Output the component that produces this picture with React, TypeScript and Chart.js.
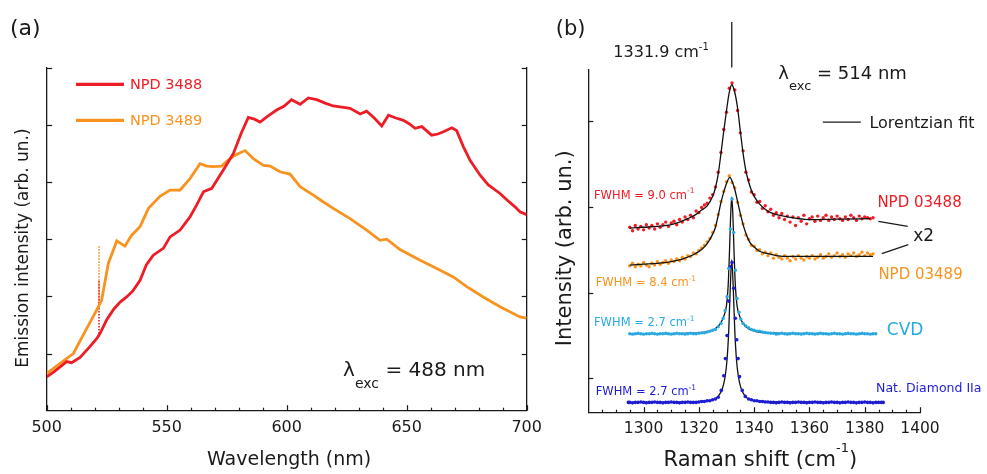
import React, { useEffect, useRef } from "react";
import { Chart, registerables } from "chart.js";
Chart.register(...registerables);

const FONT = '"DejaVu Sans", Verdana, sans-serif';
const INK = "#1a1a1a";
const RED = "#ee1c24";
const ORANGE = "#f7931e";
const CYAN = "#27aae1";
const BLUE = "#1c1cd4";

// ---------------- Panel (a): emission spectra ----------------
const wavelengthTicks = [500, 510, 520, 530, 540, 550, 560, 570, 580, 590, 600, 610, 620, 630, 640, 650, 660, 670, 680, 690, 700];
const wavelengthLabels = [500, 550, 600, 650, 700];
const emissionYTicks = [1, 2, 3, 4, 5, 6];

const npd3488X = [500, 503, 508.3, 510.4, 513.9, 518, 520.8, 522.2, 525, 528, 530.6, 533.3, 536, 538.9, 541.5, 544.4, 548.6, 551.4, 555.6, 559.7, 562.5, 565.3, 568.8, 573.6, 577.8, 581, 584, 586.5, 588.9, 592, 595.8, 599, 602, 605.6, 609, 612.5, 616, 619.4, 623, 626.4, 630.6, 633.3, 636.5, 639.6, 642.4, 645.5, 648.6, 651, 653.5, 656.3, 660.4, 663, 665.3, 668.8, 670.8, 673.6, 676.4, 680.6, 684, 688.9, 691.7, 695, 697.2, 700];
const npd3488Y = [0.59, 0.68, 0.86, 0.84, 0.93, 1.12, 1.26, 1.35, 1.59, 1.78, 1.9, 1.99, 2.1, 2.28, 2.55, 2.72, 2.84, 3.04, 3.16, 3.39, 3.6, 3.83, 3.89, 4.21, 4.5, 4.85, 5.13, 5.1, 5.05, 5.15, 5.26, 5.33, 5.44, 5.36, 5.47, 5.44, 5.38, 5.33, 5.31, 5.29, 5.19, 5.24, 5.12, 4.98, 5.17, 5.12, 5.08, 5.02, 4.94, 4.97, 4.82, 4.84, 4.88, 4.95, 4.9, 4.62, 4.38, 4.12, 3.95, 3.8, 3.69, 3.57, 3.48, 3.43];

const npd3489X = [500, 505.6, 511.1, 516.7, 520.8, 522.9, 525.7, 529.2, 532.6, 535.4, 538.9, 542.4, 547.2, 551.4, 555.6, 559.7, 563.9, 566.7, 569.5, 572.9, 575.5, 577.8, 580, 582.6, 586.1, 590.3, 593.1, 597.2, 601.4, 605.6, 611.1, 615, 619.4, 626.4, 633.3, 638.9, 641.7, 647.2, 655.6, 661.1, 669.4, 675, 681.9, 688.9, 697.2, 700];
const npd3489Y = [0.65, 0.83, 1.0, 1.44, 1.76, 1.93, 2.58, 2.97, 2.88, 3.07, 3.22, 3.54, 3.75, 3.86, 3.86, 4.06, 4.32, 4.28, 4.27, 4.28, 4.38, 4.45, 4.5, 4.55, 4.41, 4.29, 4.28, 4.18, 4.14, 3.92, 3.77, 3.66, 3.54, 3.36, 3.16, 2.98, 3.0, 2.82, 2.63, 2.52, 2.34, 2.17, 1.99, 1.82, 1.64, 1.62];

const spikeX = [521.8, 521.8];
const spike3488Y = [1.3, 2.28];
const spike3489Y = [1.8, 2.9];

// ---------------- Panel (b): Raman spectra ----------------
const ramanTicks = [1285, 1290, 1295, 1300, 1305, 1310, 1315, 1320, 1325, 1330, 1335, 1340, 1345, 1350, 1355, 1360, 1365, 1370, 1375, 1380, 1385, 1390, 1395, 1400];
const ramanLabels = [1300, 1320, 1340, 1360, 1380, 1400];
const ramanYTicks = [1, 2, 3, 4];

const npdShiftX = [1295, 1296, 1297, 1298, 1299, 1300, 1301, 1302, 1303, 1304, 1305, 1306, 1307, 1308, 1309, 1310, 1311, 1312, 1313, 1314, 1315, 1316, 1317, 1318, 1319, 1320, 1321, 1322, 1323, 1324, 1325, 1326, 1327, 1328, 1329, 1330, 1331, 1332, 1333, 1334, 1335, 1336, 1337, 1338, 1339, 1340, 1341, 1342, 1343, 1344, 1345, 1346, 1347, 1348, 1349, 1350, 1351, 1352, 1353, 1354, 1355, 1356, 1357, 1358, 1359, 1360, 1361, 1362, 1363, 1364, 1365, 1366, 1367, 1368, 1369, 1370, 1371, 1372, 1373, 1374, 1375, 1376, 1377, 1378, 1379, 1380, 1381, 1382, 1383];
const npd03488Dots = [2.76, 2.72, 2.78, 2.74, 2.77, 2.73, 2.79, 2.75, 2.78, 2.74, 2.8, 2.76, 2.79, 2.82, 2.77, 2.81, 2.83, 2.79, 2.85, 2.82, 2.88, 2.85, 2.9, 2.87, 2.95, 2.93, 2.99, 3.02, 3.04, 3.1, 3.14, 3.23, 3.4, 3.63, 3.9, 4.1, 4.38, 4.44, 4.36, 4.12, 3.86, 3.65, 3.4, 3.31, 3.17, 3.14, 3.05, 3.06, 2.98, 3.01, 2.94, 2.97, 2.9, 2.93, 2.87, 2.92, 2.85, 2.89, 2.82, 2.88, 2.78, 2.87, 2.83, 2.9, 2.8, 2.86, 2.88, 2.83, 2.89, 2.84, 2.87, 2.9, 2.84, 2.88, 2.85, 2.89, 2.86, 2.84, 2.88, 2.85, 2.9, 2.87, 2.84, 2.89, 2.86, 2.88, 2.87, 2.86, 2.87];
const npd03489Dots = [2.31, 2.34, 2.3, 2.33, 2.31, 2.35, 2.32, 2.3, 2.34, 2.32, 2.36, 2.33, 2.35, 2.37, 2.34, 2.38, 2.36, 2.39, 2.37, 2.41, 2.39, 2.43, 2.42, 2.46, 2.45, 2.49, 2.52, 2.55, 2.59, 2.63, 2.7, 2.78, 2.91, 3.06, 3.18, 3.29, 3.36, 3.28, 3.22, 3.05, 2.9, 2.8, 2.67, 2.62, 2.55, 2.54, 2.49, 2.5, 2.45, 2.47, 2.43, 2.46, 2.4, 2.44, 2.41, 2.39, 2.43, 2.4, 2.37, 2.42, 2.39, 2.43, 2.4, 2.38, 2.42, 2.4, 2.43, 2.39, 2.41, 2.44, 2.4, 2.42, 2.45, 2.41, 2.43, 2.46, 2.42, 2.44, 2.41, 2.45, 2.43, 2.46, 2.42, 2.44, 2.47, 2.43, 2.46, 2.44, 2.45];

const cvdShiftX = [1295, 1296, 1297, 1298, 1299, 1300, 1301, 1302, 1303, 1304, 1305, 1306, 1307, 1308, 1309, 1310, 1311, 1312, 1313, 1314, 1315, 1316, 1317, 1318, 1319, 1320, 1321, 1322, 1323, 1324, 1325, 1326, 1327, 1328, 1328.8, 1329.5, 1330.2, 1330.8, 1331.4, 1332, 1332.6, 1333.2, 1333.8, 1334.5, 1335.2, 1336, 1337, 1338, 1339, 1340, 1341, 1342, 1343, 1344, 1345, 1346, 1347, 1348, 1349, 1350, 1351, 1352, 1353, 1354, 1355, 1356, 1357, 1358, 1359, 1360, 1361, 1362, 1363, 1364, 1365, 1366, 1367, 1368, 1369, 1370, 1371, 1372, 1373, 1374, 1375, 1376, 1377, 1378, 1379, 1380, 1381, 1382, 1383, 1384];
const cvdDots = [1.52, 1.515, 1.52, 1.525, 1.52, 1.515, 1.52, 1.52, 1.525, 1.52, 1.515, 1.52, 1.52, 1.525, 1.52, 1.515, 1.52, 1.525, 1.52, 1.52, 1.515, 1.52, 1.525, 1.52, 1.52, 1.525, 1.53, 1.53, 1.54, 1.55, 1.56, 1.57, 1.6, 1.64, 1.7, 1.79, 1.95, 2.28, 2.74, 3.09, 2.7, 2.26, 1.93, 1.77, 1.69, 1.64, 1.61, 1.59, 1.57, 1.56, 1.55, 1.55, 1.54, 1.535, 1.53, 1.525, 1.525, 1.515, 1.52, 1.525, 1.52, 1.515, 1.52, 1.525, 1.52, 1.52, 1.515, 1.52, 1.525, 1.52, 1.52, 1.515, 1.52, 1.525, 1.52, 1.52, 1.515, 1.52, 1.525, 1.52, 1.52, 1.515, 1.52, 1.525, 1.52, 1.52, 1.515, 1.52, 1.525, 1.52, 1.52, 1.515, 1.52, 1.52];

const iiaShiftX = [1294.5, 1295, 1296, 1297, 1298, 1299, 1300, 1301, 1302, 1303, 1304, 1305, 1306, 1307, 1308, 1309, 1310, 1311, 1312, 1313, 1314, 1315, 1316, 1317, 1318, 1319, 1320, 1321, 1322, 1323, 1324, 1325, 1326, 1327, 1328.1, 1329, 1329.6, 1330.2, 1330.8, 1331.4, 1332, 1332.6, 1333.2, 1333.7, 1334.2, 1334.7, 1335.7, 1336.8, 1338, 1339, 1340, 1341, 1342, 1343, 1344, 1345, 1346, 1347, 1348, 1349, 1350, 1351, 1352, 1353, 1354, 1355, 1356, 1357, 1358, 1359, 1360, 1361, 1362, 1363, 1364, 1365, 1366, 1367, 1368, 1369, 1370, 1371, 1372, 1373, 1374, 1375, 1376, 1377, 1378, 1379, 1380, 1381, 1382, 1383, 1384, 1385, 1386, 1386.7];
const iiaDots = [0.72, 0.72, 0.715, 0.72, 0.72, 0.725, 0.72, 0.715, 0.72, 0.72, 0.725, 0.72, 0.72, 0.715, 0.72, 0.72, 0.725, 0.72, 0.72, 0.715, 0.72, 0.72, 0.725, 0.72, 0.72, 0.72, 0.725, 0.73, 0.73, 0.74, 0.74, 0.75, 0.76, 0.78, 0.86, 1.03, 1.23, 1.5, 1.9, 2.3, 2.35, 2.05, 1.7, 1.45, 1.23, 1.02, 0.86, 0.79, 0.76, 0.75, 0.74, 0.74, 0.73, 0.73, 0.725, 0.725, 0.72, 0.72, 0.715, 0.72, 0.725, 0.72, 0.72, 0.715, 0.72, 0.72, 0.725, 0.72, 0.72, 0.715, 0.72, 0.72, 0.725, 0.72, 0.72, 0.715, 0.72, 0.72, 0.725, 0.72, 0.72, 0.715, 0.72, 0.72, 0.725, 0.72, 0.72, 0.715, 0.72, 0.72, 0.725, 0.72, 0.72, 0.715, 0.72, 0.72, 0.72, 0.72];

// Lorentzian fit curves
const fit03488X = [1295, 1300, 1305, 1310, 1313, 1316, 1319, 1321, 1323, 1325, 1326, 1327, 1328, 1329, 1330, 1331, 1331.9, 1333, 1334, 1335, 1336, 1337, 1338, 1339, 1340, 1342, 1344, 1346, 1349, 1352, 1356, 1360, 1370, 1382];
const fit03488Y = [2.75, 2.76, 2.77, 2.79, 2.82, 2.86, 2.91, 2.96, 3.01, 3.12, 3.22, 3.38, 3.62, 3.88, 4.12, 4.33, 4.42, 4.33, 4.15, 3.88, 3.62, 3.42, 3.29, 3.19, 3.12, 3.03, 2.97, 2.93, 2.9, 2.88, 2.86, 2.85, 2.855, 2.86];
const fit03489X = [1295, 1300, 1305, 1310, 1314, 1318, 1321, 1323, 1325, 1326, 1327, 1328, 1329, 1330, 1331.2, 1332, 1333, 1334, 1335, 1336, 1337, 1338, 1339, 1340, 1342, 1344, 1348, 1353, 1383];
const fit03489Y = [2.32, 2.33, 2.34, 2.36, 2.39, 2.44, 2.5, 2.57, 2.68, 2.76, 2.9, 3.05, 3.17, 3.27, 3.34, 3.3, 3.2, 3.06, 2.92, 2.79, 2.69, 2.61, 2.56, 2.53, 2.48, 2.46, 2.43, 2.42, 2.42];
const fitCvdX = [1295, 1315, 1320, 1324, 1326, 1328, 1329.2, 1330, 1330.6, 1331.1, 1331.5, 1331.9, 1332.3, 1332.7, 1333.2, 1333.8, 1334.6, 1335.8, 1337.8, 1340, 1344, 1350, 1384.4];
const fitCvdY = [1.52, 1.525, 1.53, 1.55, 1.58, 1.65, 1.74, 1.85, 2.08, 2.5, 2.9, 3.11, 2.9, 2.5, 2.08, 1.85, 1.74, 1.65, 1.58, 1.55, 1.53, 1.525, 1.52];
const fitIIaX = [1294.4, 1315, 1322, 1325, 1327, 1328.5, 1329.5, 1330.2, 1330.8, 1331.3, 1331.9, 1332.5, 1333, 1333.6, 1334.3, 1335.3, 1336.8, 1338.8, 1342, 1350, 1386.7];
const fitIIaY = [0.72, 0.725, 0.735, 0.75, 0.79, 0.88, 1.02, 1.22, 1.55, 2.0, 2.38, 2.0, 1.55, 1.22, 1.02, 0.88, 0.79, 0.75, 0.735, 0.725, 0.72];

const peakPosition = 1331.9;

// ---------------- helpers ----------------
type Run = { t: string; size: number; dy?: number };
type Note = { x: number; y: number; runs: Run[]; color: string; align?: "left" | "center"; rotate?: boolean };
type Seg = { x1: number; y1: number; x2: number; y2: number; color: string; width: number };
type TickCfg = { id: string; side: "bottom" | "left" | "right"; values: number[]; major?: number[]; len: number; majorLen?: number };

const pts = (xs: number[], ys: number[]) => xs.map((x, i) => ({ x, y: ys[i] }));

function inwardTicks(cfgs: TickCfg[]) {
  return {
    id: "inwardTicks",
    afterDraw(chart: any) {
      const ctx = chart.ctx;
      const a = chart.chartArea;
      ctx.save();
      ctx.strokeStyle = INK;
      ctx.lineWidth = 1.2;
      for (const c of cfgs) {
        const sc = chart.scales[c.id];
        for (const v of c.values) {
          const len = c.major && c.major.includes(v) ? (c.majorLen as number) : c.len;
          const p = Math.round(sc.getPixelForValue(v)) + 0.5;
          ctx.beginPath();
          if (c.side === "bottom") {
            ctx.moveTo(p, a.bottom);
            ctx.lineTo(p, a.bottom - len);
          } else if (c.side === "left") {
            ctx.moveTo(a.left, p);
            ctx.lineTo(a.left + len, p);
          } else {
            ctx.moveTo(a.right, p);
            ctx.lineTo(a.right - len, p);
          }
          ctx.stroke();
        }
      }
      ctx.restore();
    },
  };
}

function annotations(notes: Note[], segs: Seg[], xId: string, yId: string) {
  return {
    id: "annotations",
    afterDraw(chart: any) {
      const ctx = chart.ctx;
      const xs = chart.scales[xId];
      const ys = chart.scales[yId];
      ctx.save();
      for (const s of segs) {
        ctx.beginPath();
        ctx.strokeStyle = s.color;
        ctx.lineWidth = s.width;
        ctx.moveTo(xs.getPixelForValue(s.x1), ys.getPixelForValue(s.y1));
        ctx.lineTo(xs.getPixelForValue(s.x2), ys.getPixelForValue(s.y2));
        ctx.stroke();
      }
      for (const n of notes) {
        ctx.save();
        ctx.translate(xs.getPixelForValue(n.x), ys.getPixelForValue(n.y));
        if (n.rotate) ctx.rotate(-Math.PI / 2);
        ctx.fillStyle = n.color;
        ctx.textBaseline = "alphabetic";
        ctx.textAlign = "left";
        let total = 0;
        for (const r of n.runs) {
          ctx.font = `${r.size}px ${FONT}`;
          total += ctx.measureText(r.t).width;
        }
        let cx = n.align === "center" ? -total / 2 : 0;
        for (const r of n.runs) {
          ctx.font = `${r.size}px ${FONT}`;
          ctx.fillText(r.t, cx, r.dy || 0);
          cx += ctx.measureText(r.t).width;
        }
        ctx.restore();
      }
      ctx.restore();
    },
  };
}

const border = { display: true, color: INK, width: 1.3 };

// ---------------- Panel (a) ----------------
function buildEmission(canvas: HTMLCanvasElement) {
  const notes: Note[] = [
    { x: 484.7, y: 6.58, runs: [{ t: "(a)", size: 22 }], color: INK },
    { x: 534.7, y: 5.62, runs: [{ t: "NPD 3488", size: 14.5 }], color: RED },
    { x: 534.7, y: 4.99, runs: [{ t: "NPD 3489", size: 14.5 }], color: ORANGE },
    { x: 623.5, y: 0.606, runs: [{ t: "λ", size: 20 }, { t: "exc", size: 14, dy: 12 }, { t: " = 488 nm", size: 20 }], color: INK },
    { x: 601, y: -0.95, runs: [{ t: "Wavelength (nm)", size: 19 }], color: INK, align: "center" },
    { x: 492.2, y: 2.845, runs: [{ t: "Emission intensity (arb. un.)", size: 17 }], color: INK, align: "center", rotate: true },
  ];
  const segs: Seg[] = [
    { x1: 512.2, y1: 5.71, x2: 532.2, y2: 5.71, color: RED, width: 3.2 },
    { x1: 512.2, y1: 5.08, x2: 532.2, y2: 5.08, color: ORANGE, width: 3.2 },
  ];
  return new Chart(canvas, {
    type: "scatter",
    data: {
      datasets: [
        { data: pts(npd3488X, npd3488Y), showLine: true, borderColor: RED, borderWidth: 2.8, pointRadius: 0, tension: 0 },
        { data: pts(npd3489X, npd3489Y), showLine: true, borderColor: ORANGE, borderWidth: 2.8, pointRadius: 0, tension: 0 },
        { data: pts(spikeX, spike3488Y), showLine: true, borderColor: RED, borderWidth: 1.6, borderDash: [1.5, 1.5], pointRadius: 0 },
        { data: pts(spikeX, spike3489Y), showLine: true, borderColor: ORANGE, borderWidth: 1.6, borderDash: [1.5, 1.5], pointRadius: 0 },
      ],
    },
    options: {
      responsive: false,
      animation: false,
      events: [],
      layout: { padding: { left: 0, top: 67.7, right: 33.3, bottom: 0 } },
      plugins: { legend: { display: false }, tooltip: { enabled: false } },
      scales: {
        x: {
          type: "linear",
          min: 500,
          max: 700,
          afterBuildTicks: (s: any) => { s.ticks = wavelengthTicks.map((v) => ({ value: v })); },
          afterFit: (s: any) => { s.height = 63.3; s.paddingLeft = 0; s.paddingRight = 0; },
          ticks: {
            autoSkip: false,
            maxRotation: 0,
            padding: 8,
            color: INK,
            font: { family: FONT, size: 16 },
            callback: (v: any) => (wavelengthLabels.includes(Number(v)) ? String(v) : ""),
          },
          grid: { display: false, drawTicks: false },
          border,
        },
        y: {
          type: "linear",
          min: 0,
          max: 6,
          afterBuildTicks: (s: any) => { s.ticks = emissionYTicks.map((v) => ({ value: v })); },
          afterFit: (s: any) => { s.width = 46.7; },
          ticks: { display: false },
          grid: { display: false, drawTicks: false },
          border,
        },
        y2: {
          type: "linear",
          position: "right",
          display: true,
          min: 0,
          max: 6,
          afterBuildTicks: (s: any) => { s.ticks = emissionYTicks.map((v) => ({ value: v })); },
          afterFit: (s: any) => { s.width = 0; },
          ticks: { display: false },
          grid: { display: false, drawTicks: false },
          border,
        },
      },
    } as any,
    plugins: [
      inwardTicks([
        { id: "x", side: "bottom", values: wavelengthTicks, major: wavelengthLabels, len: 3, majorLen: 5.5 },
        { id: "y", side: "left", values: emissionYTicks, len: 5.5 },
        { id: "y2", side: "right", values: emissionYTicks, len: 5 },
      ]),
      annotations(notes, segs, "x", "y"),
    ],
  });
}

// ---------------- Panel (b) ----------------
function buildRaman(canvas: HTMLCanvasElement) {
  const sup = (size: number) => ({ t: "-1", size, dy: -size * 0.75 });
  const notes: Note[] = [
    { x: 1268.2, y: 5.0, runs: [{ t: "(b)", size: 21 }], color: INK },
    { x: 1289.06, y: 4.74, runs: [{ t: "1331.9 cm", size: 16 }, sup(10)], color: INK },
    { x: 1348.73, y: 4.49, runs: [{ t: "λ", size: 18 }, { t: "exc", size: 13, dy: 11 }, { t: " = 514 nm", size: 18 }], color: INK },
    { x: 1381.7, y: 3.914, runs: [{ t: "Lorentzian fit", size: 16 }], color: INK },
    { x: 1384.58, y: 2.995, runs: [{ t: "NPD 03488", size: 15 }], color: RED },
    { x: 1397.58, y: 2.6, runs: [{ t: "x2", size: 17 }], color: INK },
    { x: 1384.95, y: 2.158, runs: [{ t: "NPD 03489", size: 15 }], color: ORANGE },
    { x: 1387.98, y: 1.5, runs: [{ t: "CVD", size: 17 }], color: CYAN },
    { x: 1384.12, y: 0.844, runs: [{ t: "Nat. Diamond IIa", size: 12.5 }], color: BLUE },
    { x: 1282.06, y: 3.094, runs: [{ t: "FWHM = 9.0 cm", size: 11.5 }, sup(7.5)], color: RED },
    { x: 1282.67, y: 2.073, runs: [{ t: "FWHM = 8.4 cm", size: 11.5 }, sup(7.5)], color: ORANGE },
    { x: 1282.06, y: 1.608, runs: [{ t: "FWHM = 2.7 cm", size: 11.5 }, sup(7.5)], color: CYAN },
    { x: 1282.67, y: 0.802, runs: [{ t: "FWHM = 2.7 cm", size: 11.5 }, sup(7.5)], color: BLUE },
    { x: 1273.65, y: 2.515, runs: [{ t: "Intensity (arb. un.)", size: 21 }], color: INK, align: "center", rotate: true },
    { x: 1342.24, y: -0.02, runs: [{ t: "Raman shift (cm", size: 21 }, { t: "-1", size: 13, dy: -14 }, { t: ")", size: 21 }], color: INK, align: "center" },
  ];
  const segs: Seg[] = [
    { x1: peakPosition, y1: 4.62, x2: peakPosition, y2: 5.15, color: INK, width: 1.3 },
    { x1: 1364.87, y1: 3.984, x2: 1378.59, y2: 3.984, color: INK, width: 1.2 },
    { x1: 1384.95, y1: 2.829, x2: 1395.56, y2: 2.771, color: INK, width: 1.2 },
    { x1: 1386.17, y1: 2.453, x2: 1395.78, y2: 2.558, color: INK, width: 1.2 },
  ];
  const fit = (xs: number[], ys: number[]) => ({
    data: pts(xs, ys), showLine: true, borderColor: "#111", borderWidth: 1.3, pointRadius: 0, cubicInterpolationMode: "monotone",
  });
  const dots = (xs: number[], ys: number[], color: string, r: number) => ({
    data: pts(xs, ys), showLine: false, pointRadius: r, pointBorderWidth: 0, pointBackgroundColor: color, borderColor: color,
  });
  return new Chart(canvas, {
    type: "scatter",
    data: {
      datasets: [
        // the first datasets are drawn last (on top)
        dots(cvdShiftX, cvdDots, CYAN, 1.7),
        dots(iiaShiftX, iiaDots, BLUE, 1.8),
        fit(fit03488X, fit03488Y),
        fit(fit03489X, fit03489Y),
        fit(fitCvdX, fitCvdY),
        fit(fitIIaX, fitIIaY),
        dots(npdShiftX, npd03488Dots, RED, 1.7),
        dots(npdShiftX, npd03489Dots, ORANGE, 1.7),
      ],
    },
    options: {
      responsive: false,
      animation: false,
      events: [],
      layout: { padding: { left: 0, top: 69.3, right: 67, bottom: 0 } },
      plugins: { legend: { display: false }, tooltip: { enabled: false } },
      scales: {
        x: {
          type: "linear",
          min: 1280,
          max: 1400,
          afterBuildTicks: (s: any) => { s.ticks = ramanTicks.map((v) => ({ value: v })); },
          afterFit: (s: any) => { s.height = 61.3; s.paddingLeft = 0; s.paddingRight = 0; },
          ticks: {
            autoSkip: false,
            maxRotation: 0,
            padding: 7,
            color: INK,
            font: { family: FONT, size: 15.5 },
            callback: (v: any) => (ramanLabels.includes(Number(v)) ? String(v) : ""),
          },
          grid: { display: false, drawTicks: false },
          border,
        },
        y: {
          type: "linear",
          min: 0.6,
          max: 4.6,
          afterBuildTicks: (s: any) => { s.ticks = ramanYTicks.map((v) => ({ value: v })); },
          afterFit: (s: any) => { s.width = 48.3; },
          ticks: { display: false },
          grid: { display: false, drawTicks: false },
          border,
        },
      },
    } as any,
    plugins: [
      inwardTicks([
        { id: "x", side: "bottom", values: ramanTicks, major: ramanLabels, len: 3, majorLen: 5.5 },
        { id: "y", side: "left", values: ramanYTicks, len: 5 },
      ]),
      annotations(notes, segs, "x", "y"),
    ],
  });
}

export default function App() {
  const leftRef = useRef<HTMLCanvasElement | null>(null);
  const rightRef = useRef<HTMLCanvasElement | null>(null);
  useEffect(() => {
    Chart.defaults.font.family = FONT;
    const a = buildEmission(leftRef.current as HTMLCanvasElement);
    const b = buildRaman(rightRef.current as HTMLCanvasElement);
    return () => {
      a.destroy();
      b.destroy();
    };
  }, []);
  return (
    <div style={{ position: "absolute", left: 0, top: 0, width: 987, height: 474, background: "#fff", overflow: "hidden" }}>
      <canvas ref={leftRef} width={560} height={474} style={{ position: "absolute", left: 0, top: 0 }} />
      <canvas ref={rightRef} width={447} height={474} style={{ position: "absolute", left: 540, top: 0 }} />
    </div>
  );
}
